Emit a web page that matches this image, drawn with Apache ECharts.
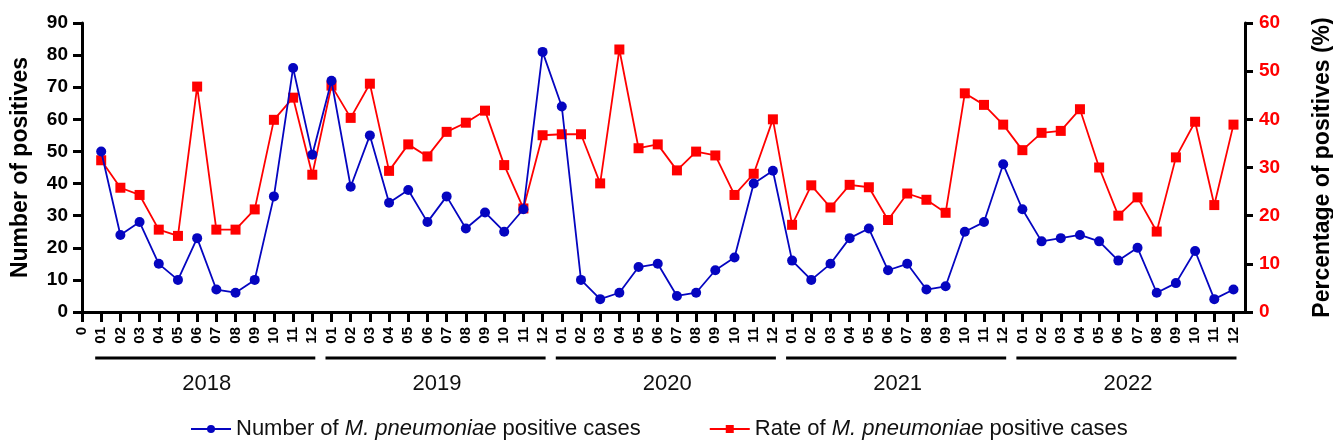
<!DOCTYPE html>
<html>
<head>
<meta charset="utf-8">
<script src="https://cdn.jsdelivr.net/npm/echarts@6/dist/echarts.min.js"></script>
<style>
  html, body { margin: 0; padding: 0; background: #fff; }
  #chart { width: 1333px; height: 445px; }
</style>
</head>
<body>
<div id="chart"></div>
<script>
var years = ['2018', '2019', '2020', '2021', '2022'];
var months = ['01', '02', '03', '04', '05', '06', '07', '08', '09', '10', '11', '12'];

// monthly number of positives, 2018-01 .. 2022-12
var positives = [
    50, 24, 28, 15, 10, 23, 7, 6, 10, 36, 76, 49,
    72, 39, 55, 34, 38, 28, 36, 26, 31, 25, 32, 81,
    64, 10, 4, 6, 14, 15, 5, 6, 13, 17, 40, 44,
    16, 10, 15, 23, 26, 13, 15, 7, 8, 25, 28, 46,
    32, 22, 23, 24, 22, 16, 20, 6, 9, 19, 4, 7
];
// monthly positive rate (%)
var rates = [
    31.5, 25.8, 24.3, 17.1, 15.8, 46.8, 17.1, 17.1, 21.3, 39.9, 44.5, 28.5,
    47.0, 40.3, 47.4, 29.3, 34.8, 32.3, 37.4, 39.3, 41.8, 30.5, 21.5, 36.7,
    36.9, 36.9, 26.7, 54.5, 34.0, 34.8, 29.4, 33.3, 32.5, 24.3, 28.7, 40.0,
    18.1, 26.3, 21.7, 26.4, 25.9, 19.1, 24.6, 23.3, 20.6, 45.4, 43.0, 38.9,
    33.6, 37.2, 37.6, 42.1, 30.0, 20.0, 23.8, 16.7, 32.1, 39.5, 22.2, 38.9
];

var numName = 'Number of M. pneumoniae positive cases';
var rateName = 'Rate of M. pneumoniae positive cases';

var monthLabels = [];
years.forEach(function (y) { months.forEach(function (m) { monthLabels.push(m); }); });
var tickVals = [];
for (var i = 0; i <= monthLabels.length; i++) tickVals.push(i);

var myChart = echarts.init(document.getElementById('chart'));
var font = 'Liberation Sans, Arial, sans-serif';

var option = {
    animation: false,
    grid: { left: 82, right: 88, top: 23, bottom: 133, outerBoundsMode: 'none' },
    legend: {
        left: 185,
        bottom: 0,
        itemWidth: 40,
        itemHeight: 10,
        itemGap: 68,
        textStyle: {
            fontFamily: font,
            fontSize: 22,
            color: '#111',
            rich: {
                a: { fontFamily: font, fontSize: 22, color: '#111' },
                i: { fontFamily: font, fontSize: 22, color: '#111', fontStyle: 'italic' }
            }
        },
        formatter: function (name) {
            var parts = name.split('M. pneumoniae');
            return '{a|' + parts[0] + '}{i|M. pneumoniae}{a|' + parts[1] + '}';
        },
        data: [numName, rateName]
    },
    xAxis: {
        type: 'value',
        min: 0,
        max: 60.6,
        splitLine: { show: false },
        axisLine: { lineStyle: { color: '#000', width: 3 } },
        axisTick: {
            customValues: tickVals,
            length: 10,
            lineStyle: { color: '#000', width: 3 }
        },
        axisLabel: {
            customValues: tickVals,
            rotate: 90,
            margin: 15,
            fontFamily: font,
            fontWeight: 'bold',
            fontSize: 15,
            color: '#000',
            formatter: function (v) {
                return v === 0 ? '0' : (monthLabels[v - 1] || '');
            }
        }
    },
    yAxis: [{
        type: 'value',
        min: 0,
        max: 90,
        interval: 10,
        name: 'Number of positives',
        nameLocation: 'middle',
        nameGap: 50,
        nameTextStyle: { fontFamily: font, fontWeight: 'bold', fontSize: 23, color: '#000' },
        splitLine: { show: false },
        axisLine: { show: true, lineStyle: { color: '#000', width: 3 } },
        axisTick: { show: true, length: 9, lineStyle: { color: '#000', width: 3 } },
        axisLabel: { fontFamily: font, fontWeight: 'bold', fontSize: 19, color: '#000', margin: 14 }
    }, {
        type: 'value',
        min: 0,
        max: 60,
        interval: 10,
        position: 'right',
        name: 'Percentage of positives (%)',
        nameLocation: 'middle',
        nameGap: 66,
        nameRotate: 90,
        nameTextStyle: { fontFamily: font, fontWeight: 'bold', fontSize: 23, color: '#000' },
        splitLine: { show: false },
        axisLine: { show: true, lineStyle: { color: '#000', width: 3 } },
        axisTick: { show: true, length: 8, lineStyle: { color: '#000', width: 3 } },
        axisLabel: { fontFamily: font, fontWeight: 'bold', fontSize: 19, color: '#ff0000', margin: 14 }
    }],
    series: [{
        name: numName,
        type: 'line',
        yAxisIndex: 0,
        symbol: 'circle',
        symbolSize: 10,
        itemStyle: { color: '#0505c0' },
        lineStyle: { color: '#0505c0', width: 1.8 },
        data: positives.map(function (v, i) { return [i + 1, v]; }),
        z: 3
    }, {
        name: rateName,
        type: 'line',
        yAxisIndex: 1,
        symbol: 'rect',
        symbolSize: 10,
        itemStyle: { color: '#ff0000' },
        lineStyle: { color: '#ff0000', width: 1.8 },
        data: rates.map(function (v, i) { return [i + 1, v]; }),
        z: 2
    }, {
        // year brackets under the month labels
        type: 'custom',
        yAxisIndex: 0,
        silent: true,
        clip: false,
        data: years.map(function (y, i) { return [i * 12 + 1, i * 12 + 12]; }),
        renderItem: function (params, api) {
            var a = api.coord([api.value(0), 0]);
            var b = api.coord([api.value(1), 0]);
            var y = a[1] + 46;
            return {
                type: 'group',
                children: [{
                    type: 'line',
                    shape: { x1: a[0] - 6, y1: y, x2: b[0] + 3, y2: y },
                    style: { stroke: '#000', lineWidth: 3 }
                }, {
                    type: 'text',
                    x: (a[0] + b[0]) / 2,
                    y: y + 26,
                    style: {
                        text: years[params.dataIndex],
                        fontFamily: font,
                        fontSize: 22,
                        fill: '#111',
                        align: 'center',
                        verticalAlign: 'middle'
                    }
                }]
            };
        }
    }]
};

myChart.setOption(option);
</script>
</body>
</html>
